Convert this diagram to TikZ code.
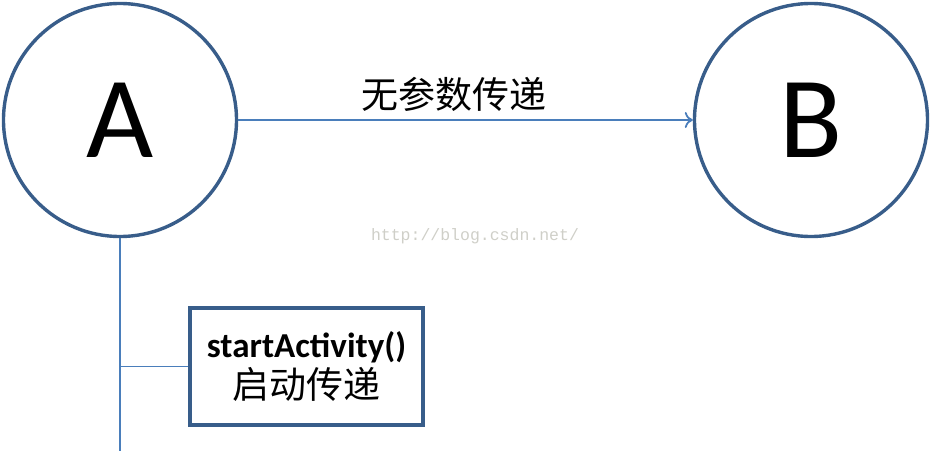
\documentclass[tikz,border=0pt]{standalone}
\usepackage{fontspec}
\setmainfont{Carlito}
\newfontfamily\cjk{Noto Sans CJK SC}
\newfontfamily\wmfont{Liberation Mono}
\usetikzlibrary{arrows.meta}
\definecolor{outl}{HTML}{385D8A}
\definecolor{conn}{HTML}{4A7EBB}
\definecolor{wm}{HTML}{CFCFC8}
\tikzset{
  circ/.style={circle, draw=outl, line width=3.4pt, minimum size=233pt, inner sep=0pt, font=\fontsize{116}{120}\selectfont},
  boxnode/.style={draw=outl, line width=3.4pt, minimum width=233pt, minimum height=117pt, inner sep=0pt, align=center},
  link/.style={draw=conn, line width=1.8pt},
}
\begin{document}
\begin{tikzpicture}[x=1pt,y=-1pt]
\useasboundingbox (0,0) rectangle (931,450);
\node[circ] (A) at (120,120) {A};
\node[circ] (B) at (811,120) {B};
\draw[link,-{To[length=8pt,width=16pt]}] (A.east) -- node[above=4pt, xshift=-12pt, font=\cjk\fontsize{37}{40}\selectfont, text=black] (lab) {无参数传递} (B.west);
\node[boxnode] (box) at (306.5,366.5) {\fontsize{35}{40}\selectfont\bfseries startActivity()\\[3pt]\cjk\fontsize{37}{40}\selectfont 启动传递};
\coordinate (bot) at (120,452);
\coordinate (j) at (120,366.5);
\draw[link] (A.south) -- (bot);
\draw[link] (j) -- (box.west);
\node[text=wm, font=\wmfont\fontsize{16.5}{16.5}\selectfont] (wmk) at (475,236) {http://blog.csdn.net/};
\end{tikzpicture}
\end{document}
